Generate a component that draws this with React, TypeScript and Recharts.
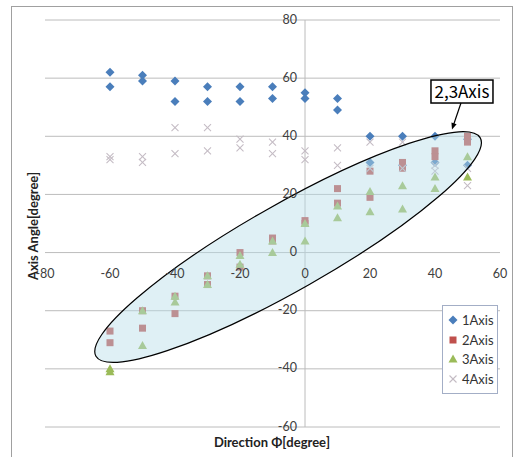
import { ScatterChart, Scatter, XAxis, YAxis, CartesianGrid, ReferenceLine, ReferenceDot, Legend } from "recharts";

// Direction Φ [degree] – every direction was measured twice
const directions = [-60, -50, -40, -30, -20, -10, 0, 10, 20, 30, 40, 50];

// Axis angle [degree], first and second measurement for each direction
const axis1First = [62, 61, 59, 57, 57, 57, 55, 53, 40, 40, 40, 39];
const axis1Second = [57, 59, 52, 52, 52, 53, 53, 49, 31, 30, 31, 30];
const axis2First = [-27, -20, -15, -8, 0, 5, 11, 22, 28, 31, 35, 40];
const axis2Second = [-31, -26, -21, -11, -5, 4, 10, 17, 19, 29, 33, 38];
const axis3First = [-40, -20, -15, -8, -1, 4, 4, 16, 21, 23, 26, 33];
const axis3Second = [-41, -32, -17, -11, -4, 0, 10, 12, 14, 15, 22, 26];
const axis4First = [33, 33, 43, 43, 39, 38, 35, 36, 38, 38, 30, 29];
const axis4Second = [32, 31, 34, 35, 36, 34, 32, 30, 29, 29, 28, 23];

const xTicks = [-80, -60, -40, -20, 0, 20, 40, 60];
const yTicks = [-60, -40, -20, 0, 20, 40, 60, 80];

// highlighted group and its callout, in data units
const groupCenter = { x: -5.2, y: 1.9 };
const calloutAt = { x: 48.3, y: 55.4 };
const calloutText = "2,3Axis";

const W = 519;
const H = 457;
// axes take 1px each (an axis of size 0 is not drawn at all)
const M = { top: 20, right: 19, bottom: 29, left: 44 };
const PLOT_LEFT = 45;
const PLOT_W = 455;
const PLOT_H = 407;
// where the axes cross (0,0)
const ZERO_X = PLOT_LEFT + (PLOT_W * (0 - xTicks[0])) / (xTicks[xTicks.length - 1] - xTicks[0]);
const ZERO_Y = M.top + (PLOT_H * (yTicks[yTicks.length - 1] - 0)) / (yTicks[yTicks.length - 1] - yTicks[0]);

const toPoints = (a: number[], b: number[]) =>
  directions.flatMap((d, i) => [
    { x: d, y: a[i] },
    { x: d, y: b[i] },
  ]);

const series = [
  { name: "1Axis", color: "#4a7ebb", marker: "diamond", data: toPoints(axis1First, axis1Second) },
  { name: "2Axis", color: "#c0504d", marker: "square", data: toPoints(axis2First, axis2Second) },
  { name: "3Axis", color: "#9bbb59", marker: "triangle", data: toPoints(axis3First, axis3Second) },
  { name: "4Axis", color: "#c4bcc4", marker: "x", data: toPoints(axis4First, axis4Second) },
];

const Marker = ({ cx, cy, kind, color }: { cx: number; cy: number; kind: string; color: string }) => {
  if (kind === "diamond") {
    return <polygon points={`${cx},${cy - 4.5} ${cx + 4.5},${cy} ${cx},${cy + 4.5} ${cx - 4.5},${cy}`} fill={color} />;
  }
  if (kind === "square") {
    return <rect x={cx - 3.5} y={cy - 3.5} width={7} height={7} fill={color} />;
  }
  if (kind === "triangle") {
    return <polygon points={`${cx},${cy - 4.5} ${cx + 4.5},${cy + 3.5} ${cx - 4.5},${cy + 3.5}`} fill={color} />;
  }
  return (
    <g stroke={color} strokeWidth={1.1}>
      <line x1={cx - 3.5} y1={cy - 3.5} x2={cx + 3.5} y2={cy + 3.5} />
      <line x1={cx - 3.5} y1={cy + 3.5} x2={cx + 3.5} y2={cy - 3.5} />
    </g>
  );
};

const XTick = (props: any) => (
  <text x={props.x} y={ZERO_Y + 25} textAnchor="middle" fontSize={12.5} fill="#404040">
    {props.payload.value}
  </text>
);

const YTick = (props: any) => (
  <text x={ZERO_X - 8} y={props.y} dy={3.5} textAnchor="end" fontSize={12.5} fill="#404040">
    {props.payload.value}
  </text>
);

const GroupEllipse = (props: any) => (
  <ellipse
    cx={props.cx}
    cy={props.cy}
    rx={221}
    ry={43}
    transform={`rotate(-29.6 ${props.cx} ${props.cy})`}
    fill="#b7dde8"
    fillOpacity={0.45}
    stroke="#000"
    strokeWidth={1.2}
  />
);

const Callout = (props: any) => {
  const { cx, cy } = props;
  const x1 = cx - 1, y1 = cy + 11.5, x2 = cx - 10, y2 = cy + 38;
  const ang = Math.atan2(y2 - y1, x2 - x1);
  const hx = (l: number, a: number) => x2 - l * Math.cos(ang + a);
  const hy = (l: number, a: number) => y2 - l * Math.sin(ang + a);
  return (
    <g>
      <rect x={cx - 31} y={cy - 11.5} width={62} height={23} fill="#fff" stroke="#000" strokeWidth={1.5} />
      <text x={cx} y={cy + 6} textAnchor="middle" fontSize={17} fill="#000" fontFamily="'Noto Sans CJK JP', sans-serif">
        {calloutText}
      </text>
      <line x1={x1} y1={y1} x2={hx(5, 0)} y2={hy(5, 0)} stroke="#000" strokeWidth={1.2} />
      <polygon points={`${x2},${y2} ${hx(7, 0.4)},${hy(7, 0.4)} ${hx(7, -0.4)},${hy(7, -0.4)}`} fill="#000" />
    </g>
  );
};

const LegendBox = () => (
  <div
    style={{
      background: "#fff",
      border: "1px solid #a3aec6",
      width: 56,
      height: 89,
      boxSizing: "border-box",
      paddingTop: 4,
    }}
  >
    {series.map((s) => (
      <div key={s.name} style={{ display: "flex", alignItems: "center", height: 19.8, fontSize: 13, color: "#333" }}>
        <svg width={16} height={12} style={{ marginLeft: 2 }}>
          <Marker cx={8} cy={6} kind={s.marker} color={s.color} />
        </svg>
        <span style={{ marginLeft: 1 }}>{s.name}</span>
      </div>
    ))}
  </div>
);

export default function App() {
  return (
    <div style={{ position: "absolute", left: 0, top: 0, width: W, height: H, overflow: "hidden", fontFamily: "Lato, sans-serif", background: "#fff" }}>
      <div
        style={{
          position: "absolute",
          left: 11,
          top: 6,
          width: 502,
          height: 470,
          border: "1px solid #a0a0a0",
          boxSizing: "border-box",
        }}
      />
      <ScatterChart width={W} height={H} margin={M} style={{ position: "absolute", left: 0, top: 0 }}>
        <CartesianGrid vertical={false} stroke="#bcbcbc" />
        <XAxis
          type="number"
          dataKey="x"
          domain={[xTicks[0], xTicks[xTicks.length - 1]]}
          ticks={xTicks}
          height={1}
          axisLine={false}
          tickLine={false}
          tick={XTick}
          interval={0}
        />
        <YAxis
          type="number"
          dataKey="y"
          domain={[yTicks[0], yTicks[yTicks.length - 1]]}
          ticks={yTicks}
          width={1}
          axisLine={false}
          tickLine={false}
          tick={YTick}
          interval={0}
        />
        <ReferenceLine x={0} stroke="#bcbcbc" />
        {series.map((s) => (
          <Scatter
            key={s.name}
            name={s.name}
            data={s.data}
            fill={s.color}
            isAnimationActive={false}
            shape={(p: any) => <Marker cx={p.cx} cy={p.cy} kind={s.marker} color={s.color} />}
          />
        ))}
        <ReferenceDot x={groupCenter.x} y={groupCenter.y} shape={GroupEllipse} />
        <ReferenceDot x={calloutAt.x} y={calloutAt.y} shape={Callout} />
        <Legend
          layout="vertical"
          align="center"
          verticalAlign="middle"
          content={LegendBox}
          wrapperStyle={{ position: "absolute", left: 442, top: 305, width: 56, height: 89 }}
        />
      </ScatterChart>
      <div
        style={{
          position: "absolute",
          left: 33,
          top: 226,
          transform: "translate(-50%, -50%) rotate(-90deg)",
          fontWeight: 700,
          fontSize: 13,
          color: "#222",
          whiteSpace: "nowrap",
        }}
      >
        Axis Angle[degree]
      </div>
      <div
        style={{
          position: "absolute",
          left: 272,
          top: 442,
          transform: "translate(-50%, -50%)",
          fontWeight: 700,
          fontSize: 13,
          lineHeight: "14px",
          color: "#222",
          whiteSpace: "nowrap",
        }}
      >
        Direction Φ[degree]
      </div>
    </div>
  );
}
